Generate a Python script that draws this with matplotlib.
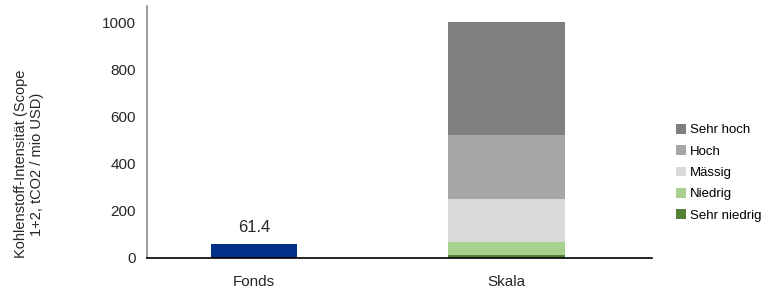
import matplotlib
matplotlib.use("Agg")
import matplotlib.pyplot as plt
from matplotlib.patches import Patch

plt.rcParams['font.family'] = ['Liberation Sans', 'DejaVu Sans']

categories = ["Fonds", "Skala"]
fonds_value = 61.4
scale_labels = ["Sehr niedrig", "Niedrig", "Mässig", "Hoch", "Sehr hoch"]
scale_bounds = [12, 68, 250, 522, 1000]  # cumulative upper bounds
scale_colors = ["#548235", "#a9d18e", "#d9d9d9", "#a6a6a6", "#808080"]
fonds_color = "#003087"
yticks = [0, 200, 400, 600, 800, 1000]

x_pos = [0, 1]
widths = [0.34, 0.464]

fig = plt.figure(figsize=(7.74, 2.93), dpi=100)
ax = fig.add_axes([0.19, 0.1195, 0.652, 0.86])

ax.bar(x_pos[0], fonds_value, width=widths[0], color=fonds_color)
ax.text(x_pos[0], fonds_value + 35, f"{fonds_value:.1f}", ha="center", va="bottom",
        fontsize=12, color="#262626")

bottom = 0
for lab, top, col in zip(scale_labels, scale_bounds, scale_colors):
    ax.bar(x_pos[1], top - bottom, bottom=bottom, width=widths[1], color=col)
    bottom = top

ax.set_xlim(-0.424, 1.576)
ax.set_ylim(0, 1068)
ax.set_yticks(yticks)
ax.set_xticks(x_pos)
ax.set_xticklabels(categories)
ax.tick_params(axis="both", length=0, labelsize=11, colors="#262626")
ax.tick_params(axis="y", pad=8)
ax.tick_params(axis="x", pad=12)
for s in ["top", "right"]:
    ax.spines[s].set_visible(False)
ax.spines["left"].set_color("#8c8c8c")
ax.spines["left"].set_linewidth(1.2)
ax.spines["bottom"].set_color("#000000")
ax.spines["bottom"].set_linewidth(1.2)

fig.text(0.037, 0.44, "Kohlenstoff-Intensität (Scope\n1+2, tCO2 / mio USD)",
         rotation=90, ha="center", va="center", fontsize=10.5, color="#262626",
         multialignment="center")

handles = [Patch(facecolor=c, edgecolor="none", label=l)
           for l, c in zip(scale_labels[::-1], scale_colors[::-1])]
fig.legend(handles=handles, loc="center left", bbox_to_anchor=(0.873, 0.41),
           frameon=False, fontsize=9.5, handlelength=0.75, handleheight=0.75,
           handletextpad=0.35, labelspacing=0.68, borderaxespad=0, borderpad=0)

fig.savefig("out.png", dpi=100)
